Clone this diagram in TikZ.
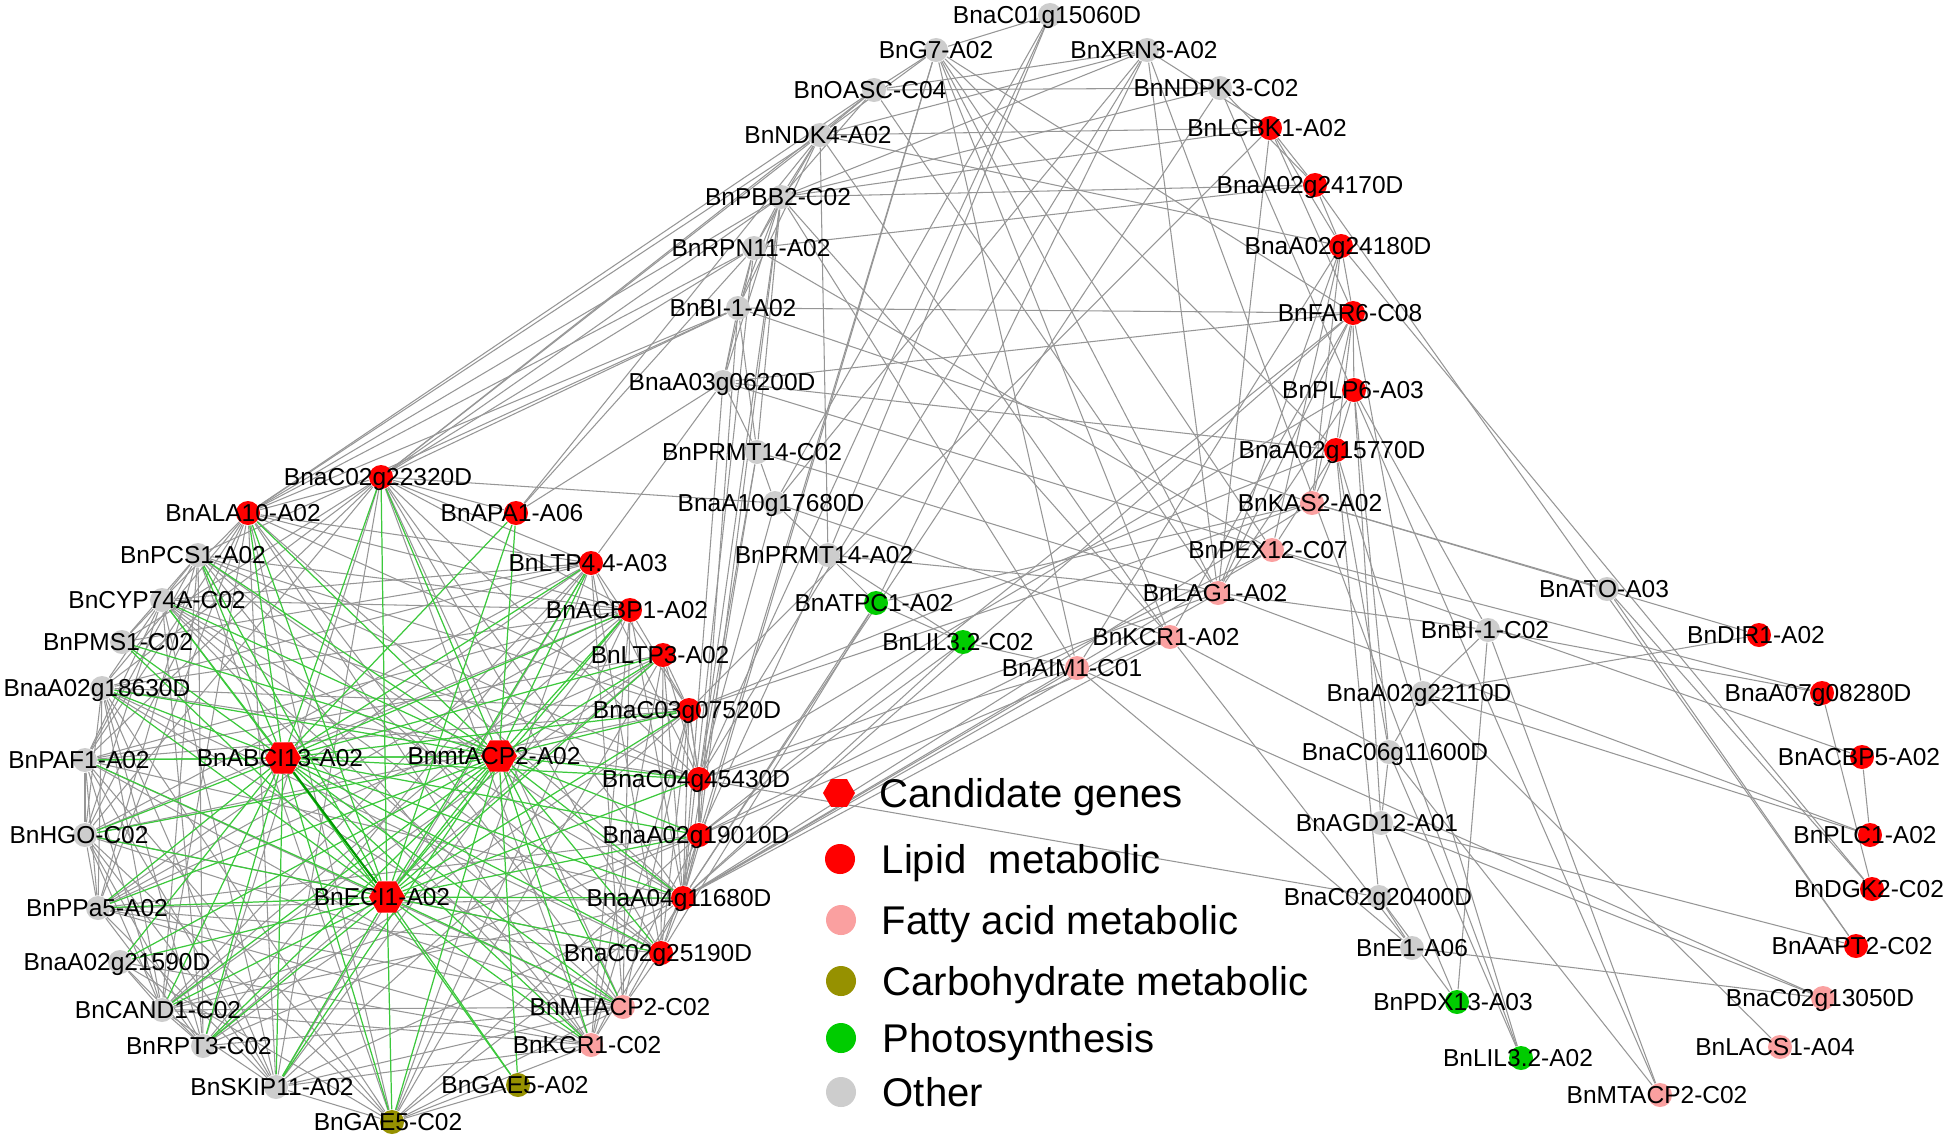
\documentclass[tikz,border=0pt]{standalone}
\usepackage{fontspec}
\setmainfont{Liberation Sans}
\usetikzlibrary{shapes.geometric, backgrounds}

\begin{document}
\begin{tikzpicture}[x=0.01cm, y=-0.01cm,
	gene/.style={circle, inner sep=0pt, minimum size=0.24cm},
	lipid/.style={gene, fill=lipidred},
	fatty/.style={gene, fill=fattypink},
	carbo/.style={gene, fill=carboolive},
	photo/.style={gene, fill=photogreen},
	other/.style={gene, fill=othergray},
	cand/.style={regular polygon, regular polygon sides=6, inner sep=0pt, minimum size=0.36cm, fill=lipidred},
	lbl/.style={inner sep=0pt, text height=5pt, text depth=0pt, font=\fontsize{6.97}{8}\selectfont},
	leg/.style={inner sep=0pt, anchor=west, text height=8.2pt, text depth=0pt, font=\fontsize{11.4}{13}\selectfont},
	link/.style={draw=edgegray, line width=0.3pt},
	glink/.style={draw=edgegreen, line width=0.35pt}]
	
	% Definizione dei colori
	\definecolor{lipidred}{RGB}{255,0,0}
	\definecolor{fattypink}{RGB}{250,160,160}
	\definecolor{carboolive}{RGB}{150,145,0}
	\definecolor{photogreen}{RGB}{0,204,0}
	\definecolor{othergray}{RGB}{205,205,205}
	\definecolor{edgegray}{RGB}{150,150,150}
	\definecolor{edgegreen}{RGB}{60,200,60}
	
	\useasboundingbox (0,0) rectangle (1946,1142);
	
	% Nodi in alto (altri)
	\node[other] (c01) at (1050,15) {}; \node[lbl] (c01-t) at (1047,15) {BnaC01g15060D};
	\node[other] (g7) at (936,50) {}; \node[lbl] (g7-t) at (936,50) {BnG7-A02};
	\node[other] (xrn3) at (1147,50) {}; \node[lbl] (xrn3-t) at (1144,50) {BnXRN3-A02};
	\node[other] (oasc) at (874,90) {}; \node[lbl] (oasc-t) at (870,90) {BnOASC-C04};
	\node[other] (ndpk3) at (1220,88) {}; \node[lbl] (ndpk3-t) at (1216,88) {BnNDPK3-C02};
	\node[other] (ndk4) at (820,135) {}; \node[lbl] (ndk4-t) at (818,135) {BnNDK4-A02};
	\node[other] (pbb2) at (781,197) {}; \node[lbl] (pbb2-t) at (778,197) {BnPBB2-C02};
	\node[other] (rpn11) at (754,248) {}; \node[lbl] (rpn11-t) at (751,248) {BnRPN11-A02};
	\node[other] (bia02) at (738,308) {}; \node[lbl] (bia02-t) at (733,308) {BnBI-1-A02};
	\node[other] (a03g) at (723,382) {}; \node[lbl] (a03g-t) at (722,382) {BnaA03g06200D};
	\node[other] (prmtc) at (757,452) {}; \node[lbl] (prmtc-t) at (752,452) {BnPRMT14-C02};
	\node[other] (a10g) at (775,503) {}; \node[lbl] (a10g-t) at (771,503) {BnaA10g17680D};
	\node[other] (prmta) at (828,555) {}; \node[lbl] (prmta-t) at (824,555) {BnPRMT14-A02};
	\node[photo] (atpc1) at (876,603) {}; \node[lbl] (atpc1-t) at (874,603) {BnATPC1-A02};
	\node[photo] (lilc) at (963,642) {}; \node[lbl] (lilc-t) at (958,642) {BnLIL3.2-C02};
	\node[fatty] (aim1) at (1077,668) {}; \node[lbl] (aim1-t) at (1072,668) {BnAIM1-C01};
	\node[fatty] (kcr1a) at (1170,637) {}; \node[lbl] (kcr1a-t) at (1166,637) {BnKCR1-A02};
	\node[fatty] (lag1) at (1218,593) {}; \node[lbl] (lag1-t) at (1215,593) {BnLAG1-A02};
	\node[fatty] (pex12) at (1272,550) {}; \node[lbl] (pex12-t) at (1268,550) {BnPEX12-C07};
	\node[fatty] (kas2) at (1312,503) {}; \node[lbl] (kas2-t) at (1310,503) {BnKAS2-A02};
	
	% Colonna di destra (lipidi)
	\node[lipid] (lcbk1) at (1270,128) {}; \node[lbl] (lcbk1-t) at (1267,128) {BnLCBK1-A02};
	\node[lipid] (g24170) at (1315,185) {}; \node[lbl] (g24170-t) at (1310,185) {BnaA02g24170D};
	\node[lipid] (g24180) at (1341,246) {}; \node[lbl] (g24180-t) at (1338,246) {BnaA02g24180D};
	\node[lipid] (far6) at (1353,313) {}; \node[lbl] (far6-t) at (1350,313) {BnFAR6-C08};
	\node[lipid] (plp6) at (1354,390) {}; \node[lbl] (plp6-t) at (1353,390) {BnPLP6-A03};
	\node[lipid] (g15770) at (1336,450) {}; \node[lbl] (g15770-t) at (1332,450) {BnaA02g15770D};
	
	% Gruppo a destra
	\node[other] (ato) at (1607,589) {}; \node[lbl] (ato-t) at (1604,589) {BnATO-A03};
	\node[other] (bic02) at (1488,630) {}; \node[lbl] (bic02-t) at (1485,630) {BnBI-1-C02};
	\node[lipid] (dir1) at (1759,635) {}; \node[lbl] (dir1-t) at (1756,635) {BnDIR1-A02};
	\node[lipid] (g08280) at (1822,693) {}; \node[lbl] (g08280-t) at (1818,693) {BnaA07g08280D};
	\node[other] (g22110) at (1423,693) {}; \node[lbl] (g22110-t) at (1419,693) {BnaA02g22110D};
	\node[other] (c06g) at (1389,752) {}; \node[lbl] (c06g-t) at (1395,752) {BnaC06g11600D};
	\node[lipid] (acbp5) at (1862,757) {}; \node[lbl] (acbp5-t) at (1859,757) {BnACBP5-A02};
	\node[other] (agd12) at (1381,823) {}; \node[lbl] (agd12-t) at (1377,823) {BnAGD12-A01};
	\node[lipid] (plc1) at (1870,835) {}; \node[lbl] (plc1-t) at (1865,835) {BnPLC1-A02};
	\node[lipid] (dgk2) at (1872,889) {}; \node[lbl] (dgk2-t) at (1869,889) {BnDGK2-C02};
	\node[other] (g20400) at (1379,897) {}; \node[lbl] (g20400-t) at (1378,897) {BnaC02g20400D};
	\node[lipid] (aapt2) at (1856,946) {}; \node[lbl] (aapt2-t) at (1852,946) {BnAAPT2-C02};
	\node[other] (e1) at (1412,948) {}; \node[lbl] (e1-t) at (1412,948) {BnE1-A06};
	\node[fatty] (g13050) at (1823,998) {}; \node[lbl] (g13050-t) at (1820,998) {BnaC02g13050D};
	\node[photo] (pdx13) at (1457,1002) {}; \node[lbl] (pdx13-t) at (1453,1002) {BnPDX13-A03};
	\node[fatty] (lacs1) at (1780,1047) {}; \node[lbl] (lacs1-t) at (1775,1047) {BnLACS1-A04};
	\node[photo] (lila) at (1521,1058) {}; \node[lbl] (lila-t) at (1518,1058) {BnLIL3.2-A02};
	\node[fatty] (mtacp2r) at (1660,1095) {}; \node[lbl] (mtacp2r-t) at (1657,1095) {BnMTACP2-C02};
	
	% Gruppo a sinistra
	\node[lipid] (g22320) at (381,477) {}; \node[lbl] (g22320-t) at (378,477) {BnaC02g22320D};
	\node[lipid] (ala10) at (248,513) {}; \node[lbl] (ala10-t) at (243,513) {BnALA10-A02};
	\node[lipid] (apa1) at (516,513) {}; \node[lbl] (apa1-t) at (512,513) {BnAPA1-A06};
	\node[other] (pcs1) at (198,555) {}; \node[lbl] (pcs1-t) at (193,555) {BnPCS1-A02};
	\node[lipid] (ltp44) at (591,563) {}; \node[lbl] (ltp44-t) at (588,563) {BnLTP4.4-A03};
	\node[other] (cyp74) at (162,600) {}; \node[lbl] (cyp74-t) at (157,600) {BnCYP74A-C02};
	\node[lipid] (acbp1) at (630,610) {}; \node[lbl] (acbp1-t) at (627,610) {BnACBP1-A02};
	\node[other] (pms1) at (122,642) {}; \node[lbl] (pms1-t) at (118,642) {BnPMS1-C02};
	\node[lipid] (ltp3) at (663,655) {}; \node[lbl] (ltp3-t) at (660,655) {BnLTP3-A02};
	\node[other] (g18630) at (102,688) {}; \node[lbl] (g18630-t) at (97,688) {BnaA02g18630D};
	\node[lipid] (g07520) at (689,710) {}; \node[lbl] (g07520-t) at (687,710) {BnaC03g07520D};
	\node[cand] (abci13) at (283,758) {}; \node[lbl] (abci13-t) at (280,758) {BnABCI13-A02};
	\node[cand] (mtacp2a) at (499,756) {}; \node[lbl] (mtacp2a-t) at (494,756) {BnmtACP2-A02};
	\node[other] (paf1) at (85,760) {}; \node[lbl] (paf1-t) at (79,760) {BnPAF1-A02};
	\node[lipid] (g45430) at (699,779) {}; \node[lbl] (g45430-t) at (696,779) {BnaC04g45430D};
	\node[lipid] (g19010) at (699,835) {}; \node[lbl] (g19010-t) at (696,835) {BnaA02g19010D};
	\node[other] (hgo) at (85,835) {}; \node[lbl] (hgo-t) at (79,835) {BnHGO-C02};
	\node[cand] (eci1) at (387,897) {}; \node[lbl] (eci1-t) at (382,897) {BnECI1-A02};
	\node[other] (ppa5) at (98,908) {}; \node[lbl] (ppa5-t) at (97,908) {BnPPa5-A02};
	\node[lipid] (g11680) at (683,898) {}; \node[lbl] (g11680-t) at (679,898) {BnaA04g11680D};
	\node[lipid] (g25190) at (661,953) {}; \node[lbl] (g25190-t) at (658,953) {BnaC02g25190D};
	\node[other] (g21590) at (120,962) {}; \node[lbl] (g21590-t) at (117,962) {BnaA02g21590D};
	\node[fatty] (mtacp2l) at (623,1007) {}; \node[lbl] (mtacp2l-t) at (620,1007) {BnMTACP2-C02};
	\node[other] (cand1) at (162,1010) {}; \node[lbl] (cand1-t) at (158,1010) {BnCAND1-C02};
	\node[fatty] (kcr1c) at (591,1045) {}; \node[lbl] (kcr1c-t) at (587,1045) {BnKCR1-C02};
	\node[other] (rpt3) at (203,1046) {}; \node[lbl] (rpt3-t) at (199,1046) {BnRPT3-C02};
	\node[carbo] (gae5a) at (518,1085) {}; \node[lbl] (gae5a-t) at (515,1085) {BnGAE5-A02};
	\node[other] (skip11) at (276,1087) {}; \node[lbl] (skip11-t) at (272,1087) {BnSKIP11-A02};
	\node[carbo] (gae5c) at (392,1122) {}; \node[lbl] (gae5c-t) at (388,1122) {BnGAE5-C02};
	
	% Legenda
	\node[cand, minimum size=0.32cm] (lcand) at (839,793) {}; \node[leg] (lcand-t) at (879,793) {Candidate genes};
	\node[lipid, minimum size=0.3cm] (llip) at (840,859) {}; \node[leg] (llip-t) at (881,859) {Lipid\ \ metabolic};
	\node[fatty, minimum size=0.3cm] (lfat) at (841,920) {}; \node[leg] (lfat-t) at (881,920) {Fatty acid metabolic};
	\node[carbo, minimum size=0.3cm] (lcarb) at (841,981) {}; \node[leg] (lcarb-t) at (882,981) {Carbohydrate metabolic};
	\node[photo, minimum size=0.3cm] (lpho) at (841,1038) {}; \node[leg] (lpho-t) at (882,1038) {Photosynthesis};
	\node[other, minimum size=0.3cm] (loth) at (841,1092) {}; \node[leg] (loth-t) at (882,1092) {Other};
	
	% Collegamenti
	\begin{scope}[on background layer]
		\def\cluster{g22320,ala10,apa1,pcs1,ltp44,cyp74,acbp1,pms1,ltp3,g18630,g07520,paf1,g45430,g19010,hgo,ppa5,g11680,g25190,g21590,mtacp2l,cand1,kcr1c,rpt3,gae5a,skip11,gae5c}
		\foreach \a [count=\i] in \cluster {
			\foreach \b [count=\j] in \cluster {
				\pgfmathtruncatemacro{\k}{mod(\i*\j+\i+2*\j,5)}
				\ifnum\j>\i \ifnum\k<3 \draw[link] (\a) -- (\b); \fi\fi
			}
		}
		\foreach \a/\b in {lcbk1/g24170, lcbk1/g24180, lcbk1/xrn3, lcbk1/pbb2, lcbk1/ndk4, lcbk1/lag1, lcbk1/far6, lcbk1/g07520,
			g24170/g24180, g24170/pbb2, g24170/ndpk3, g24170/aapt2, g24170/rpn11,
			g24180/far6, g24180/kas2, g24180/lag1, g24180/pex12, g24180/aim1, g24180/dgk2, g24180/ndk4,
			far6/plp6, far6/g15770, far6/kas2, far6/lag1, far6/kcr1a, far6/g22110, far6/a03g, far6/bia02, far6/g11680, far6/g19010,
			plp6/g15770, plp6/c06g, plp6/agd12, plp6/bic02, plp6/lag1, plp6/g45430,
			g15770/kas2, g15770/pex12, g15770/c06g, g15770/g20400, g15770/lila, g15770/g07520,
			kas2/ato, kas2/dir1, kas2/g11680, kas2/g07520, kas2/atpc1, kas2/bia02,
			pex12/acbp5, pex12/g08280, pex12/g11680, pex12/g19010, pex12/rpn11, pex12/a03g,
			lag1/bic02, lag1/plc1, lag1/g11680, lag1/g45430, lag1/prmta, lag1/prmtc, lag1/xrn3, lag1/oasc, lag1/g7,
			kcr1a/c06g, kcr1a/e1, kcr1a/g11680, kcr1a/g19010, kcr1a/a10g, kcr1a/ndk4,
			aim1/e1, aim1/g11680, aim1/g45430, aim1/g13050, aim1/pbb2, aim1/lilc,
			bic02/g22110, bic02/pdx13, bic02/mtacp2r, bic02/g08280,
			ato/dgk2, ato/aapt2,
			g22110/c06g, g22110/plc1, g22110/lacs1,
			c06g/agd12, c06g/mtacp2r, c06g/lila,
			agd12/g13050, agd12/aapt2, agd12/pdx13,
			g20400/e1, g20400/pdx13, g20400/g45430,
			e1/g13050, plc1/acbp5, dgk2/g08280, ndpk3/mtacp2r, xrn3/lila, dir1/g22110,
			c01/g7, c01/prmta, c01/g45430, c01/a10g,
			g7/oasc, g7/ndk4, g7/kcr1a, g7/aim1, g7/g15770, g7/pex12, g7/g11680, g7/g19010, g7/far6,
			xrn3/ndk4, xrn3/oasc, xrn3/pbb2, xrn3/g45430, xrn3/atpc1, xrn3/a10g,
			ndpk3/pbb2, ndpk3/oasc, ndpk3/g11680,
			oasc/ndk4, oasc/pbb2, oasc/ala10, oasc/g22320,
			ndk4/pbb2, ndk4/rpn11, ndk4/bia02, ndk4/ala10, ndk4/g22320, ndk4/apa1, ndk4/prmta,
			pbb2/rpn11, pbb2/bia02, pbb2/a03g, pbb2/prmtc, pbb2/g22320, pbb2/ala10, pbb2/kcr1a, pbb2/g45430, pbb2/g19010,
			rpn11/bia02, rpn11/a03g, rpn11/g22320, rpn11/apa1, rpn11/g11680, rpn11/ala10,
			bia02/a03g, bia02/prmtc, bia02/g22320, bia02/ala10, bia02/g19010, bia02/pcs1,
			a03g/prmtc, a03g/g15770, a03g/ltp44, a03g/g11680, a03g/apa1,
			prmtc/a10g, prmtc/g11680, prmtc/g45430,
			a10g/prmta, a10g/g45430, a10g/g22320,
			prmta/atpc1, prmta/g19010, prmta/lilc,
			atpc1/g11680, atpc1/g25190, atpc1/lilc,
			lilc/g11680, lilc/g19010,
			g45430/g19010, g19010/g11680, g11680/g25190, g25190/mtacp2l, g07520/g45430}
			\draw[link] (\a) -- (\b);
		% collegamenti dei geni candidati
		\foreach \h in {abci13,mtacp2a,eci1} {
			\foreach \b in \cluster
				\draw[glink] (\h) -- (\b);
		}
		\draw[glink] (abci13) -- (mtacp2a);
		\draw[glink] (mtacp2a) -- (eci1);
		\draw[glink, line width=0.6pt, draw=green!60!black] (abci13) -- (eci1);
	\end{scope}
	
\end{tikzpicture}
\end{document}
